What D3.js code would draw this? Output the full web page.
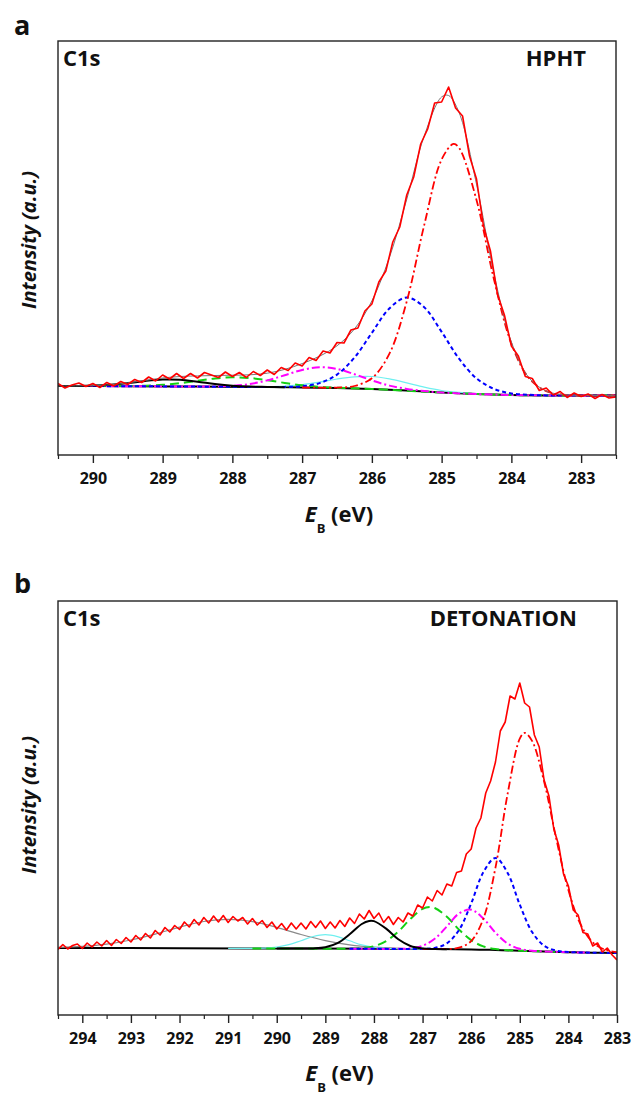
<!DOCTYPE html>
<html lang="en">
<head>
<meta charset="UTF-8">
<title>C1s XPS spectra - HPHT and detonation</title>
<script src="https://d3js.org/d3.v7.min.js"></script>
<style>
  body { margin: 0; background: #fff; }
  text { font-family: "Open Sans", "DejaVu Sans", sans-serif; font-weight: bold; fill: #111; }
</style>
</head>
<body>
<svg width="632" height="1095"></svg>
<script>
// ---- panel a : HPHT ----
const hphtTicks = [290, 289, 288, 287, 286, 285, 284, 283];
const hphtMinor = [290.5, 289.5, 288.5, 287.5, 286.5, 285.5, 284.5, 283.5, 282.5];
const hphtStart = 290.5;   // measured spectrum, 0.1 eV steps going down
const hphtCounts = [
  71.5, 67, 70, 72, 68.5, 71.5, 67.5, 72.5, 69, 73.5,
  70.5, 75.5, 72.5, 78, 74, 80, 76, 81.5, 76.5, 81.5,
  77, 82.5, 80, 77.5, 83, 78.5, 82.5, 77.5, 83.5, 79.5,
  85, 80.5, 87.5, 84.5, 92, 89, 97.5, 94.5, 104, 102,
  112.5, 112, 125, 127, 144, 151, 173, 184, 213, 228,
  260, 278, 311, 326, 352, 353, 368, 347, 339, 299,
  276, 229, 204, 161, 140, 109, 99, 78.5, 76.5, 64.5,
  67, 60, 63.5, 57.5, 62, 58.5, 61, 56.5, 60.5, 57,
  58
];
const hphtFit = [[290.5,69],[290.25,69.1],[290,69.4],[289.75,70.2],[289.5,72.1],[289.25,74.6],[289,77],
  [288.75,78.5],[288.5,79.1],[288.25,79.5],[288,79.8],[287.75,80.2],[287.5,81.8],[287.25,85.6],[287,91.4],
  [286.75,98.8],[286.5,109.2],[286.25,126],[286,154.1],[285.75,197.2],[285.5,255.8],[285.25,319],[285,358.1],
  [284.9,359.5],[284.75,342.5],[284.5,270.9],[284.25,181.4],[284,113],[283.75,77.4],[283.5,63.9],
  [283.25,60.3],[283,59.6],[282.75,59.5],[282.5,59.3]];
const hphtBackground = [[290.5,69],[289.5,68.8],[288.5,68.4],[287.5,68],[287,67.5],[286.5,67],[286,66],
  [285.5,64.5],[285,62.5],[284.5,61],[284,60],[283.5,59.6],[282.5,59.5]];
const hphtBlack = [[290.5,69],[290.25,69.1],[290,69.4],[289.75,70.2],[289.5,71.9],[289.25,74],[289,75.4],
  [288.75,75.2],[288.5,73.3],[288.25,71],[288,69.3],[287.75,68.4],[287.5,68.1],[287.25,67.8]];
const hphtGreen = [[290.5,69],[290,69],[289.5,69],[289.25,69.3],[289,70.2],[288.75,71.8],[288.5,74.2],
  [288.25,76.5],[288,77.7],[287.75,77],[287.5,74.8],[287.25,72.1],[287,69.7],[286.75,68.2],[286.5,67.3],
  [286,66],[285,62.5],[284,60],[282.5,59.5]];
const hphtMagenta = [[290.5,69],[289.5,68.8],[288.5,68.4],[288.25,68.6],[288,69.2],[287.75,71],[287.5,74.6],
  [287.25,79.8],[287,85],[286.75,87.7],[286.5,86.1],[286.25,80.8],[286,74.6],[285.75,69.4],[285.5,66.1],
  [285.25,64],[285,62.5],[284,60],[282.5,59.5]];
const hphtCyan = [[287.75,68.2],[287.5,68.4],[287.25,69],[287,70.4],[286.75,72.9],[286.5,76],[286.25,78.2],
  [286,78.5],[285.75,76.1],[285.5,72.1],[285.25,67.9],[285,64.5],[284.75,62.6],[284.5,61.2],[284.25,60.5]];
const hphtBlue = [[290.5,69],[289.5,68.8],[288.5,68.4],[287.5,68],[287.25,68.1],[287,68.8],[286.75,71.9],
  [286.5,80.4],[286.25,97.4],[286,122.2],[285.75,146.5],[285.5,157.5],[285.25,147.8],[285,123.1],
  [284.75,96.3],[284.5,76.6],[284.25,66.1],[284,61.6],[283.75,60.2],[283.5,59.6],[282.5,59.5]];
const hphtMain = [[287,67.5],[286.75,67.3],[286.5,67.4],[286.25,69],[286,76.8],[285.75,101.1],[285.5,153.6],
  [285.25,229.8],[285,295.5],[284.83,311.1],[284.75,307.2],[284.5,255],[284.25,175.8],[284,111.4],
  [283.75,77],[283.5,63.9],[283.25,60.3],[283,59.5],[282.5,59.5]];

// ---- panel b : DETONATION ----
const detTicks = [294, 293, 292, 291, 290, 289, 288, 287, 286, 285, 284, 283];
const detMinor = [294.5, 293.5, 292.5, 291.5, 290.5, 289.5, 288.5, 287.5, 286.5, 285.5, 284.5, 283.5];
const detStart = 294.5;    // measured spectrum, 0.1 eV steps going down
const detCounts = [
  65.5, 70.5, 66, 69.5, 71, 66.5, 72, 68, 73, 69,
  74.5, 69.5, 75.5, 71.5, 77.5, 73, 79.5, 75, 81.5, 77,
  84.5, 80, 87.5, 83, 89.5, 85.5, 93, 88, 95.5, 90,
  97.5, 92, 99, 93, 99.5, 92.5, 98.5, 94, 97.5, 91,
  96.5, 90, 94.5, 87.5, 93, 86, 91.5, 85, 92, 86,
  92, 86, 93.5, 87.5, 94, 86.5, 93, 87, 94.5, 88.5,
  97, 91.5, 101, 96, 104.5, 96.5, 102, 92.5, 98.5, 90.5,
  97.5, 93, 102, 99, 110, 107, 118, 114, 124.5, 120,
  131, 129, 142.5, 144, 161, 166, 187, 197, 222, 234,
  253, 284, 293, 319, 316, 332, 312, 308, 280, 268,
  235, 219, 186, 170, 141, 129, 105, 100, 82.5, 81,
  69, 72, 63, 67, 60, 55
];
const detBackground = [[294.5,67],[292,66.8],[290,66.5],[288,66.2],[287,66],[286,65.6],[285.5,65],
  [285,64.3],[284.5,63.5],[284,62.8],[283.5,62.3],[283,62]];
const detGray = [[294.5,67.6],[294,68.6],[293.5,70.8],[293,75],[292.5,80.9],[292,87.9],[291.5,93.5],
  [291,95.65],[290.5,93.4],[290,87.6],[289.5,80.5],[289,74.45],[288.5,70.2],[288,67.8],[287.5,66.7],
  [287,66.2],[286.5,65.8]];
const detCyan = [[291,66.65],[290.5,66.7],[290.25,66.9],[290,67.9],[289.75,70.3],[289.5,74.3],[289.25,78.5],
  [289,80.35],[288.75,78.4],[288.5,74.2],[288.25,70.05],[288,67.6],[287.75,66.55],[287.5,66.2],[287,66]];
const detBlack = [[290,66.5],[289.5,66.4],[289.25,66.6],[289,67.75],[288.75,71.8],[288.5,80.7],[288.25,91],
  [288.1,94.1],[288,93.9],[287.75,86.35],[287.5,75.7],[287.25,69.05],[287,66.6],[286.75,66],[286.5,65.8]];
const detGreen = [[290.5,66.6],[289.5,66.4],[288.5,66.4],[288.25,66.95],[288,68.8],[287.75,73.85],[287.5,83.4],
  [287.25,96.05],[287,106.1],[286.85,107.9],[286.75,107],[286.5,98.3],[286.25,85.4],[286,74.8],[285.75,68.6],
  [285.5,65.9],[285.25,64.85],[285,64.3],[284.5,63.5],[284,62.8]];
const detMagenta = [[288.5,66.3],[287.5,66.2],[287.25,66.75],[287,69.3],[286.75,76.2],[286.5,88.6],
  [286.25,101.5],[286,105.3],[285.75,96.5],[285.5,82.3],[285.25,71.45],[285,66.2],[284.75,64.3],
  [284.5,63.6],[284,62.8],[283.5,62.3]];
const detBlue = [[288.5,66.3],[287.5,66.1],[287,66.2],[286.75,67.1],[286.5,71.6],[286.25,85],[286,111.6],
  [285.75,142.7],[285.5,157],[285.25,142.05],[285,110.3],[284.75,83.2],[284.5,69.3],[284.25,64.35],
  [284,63],[283.5,62.3],[283,62]];
const detMain = [[287,66],[286.5,66],[286.25,67.3],[286,73.9],[285.75,96.3],[285.5,147.4],[285.25,221.25],
  [285,276.3],[284.9,282.1],[284.75,274.4],[284.5,233.5],[284.25,176.35],[284,124.9],[283.75,90.65],
  [283.5,72.7],[283.25,65.35],[283,62.8]];

const svg = d3.select("svg");

const panels = [
  { id: "a", sample: "HPHT", sampleEnd: 586, top: 41, bottom: 455, left: 58, right: 616, domain: [290.5, 282.5],
    ticks: hphtTicks, minor: hphtMinor, start: hphtStart, counts: hphtCounts, fit: hphtFit,
    bg: hphtBackground, gray: null, cyan: hphtCyan, black: hphtBlack, green: hphtGreen,
    magenta: hphtMagenta, blue: hphtBlue, main: hphtMain, letterY: 35, yTitle: 240, xTitle: 522 },
  { id: "b", sample: "DETONATION", sampleEnd: 577, top: 601, bottom: 1015, left: 58, right: 617, domain: [294.5, 283],
    ticks: detTicks, minor: detMinor, start: detStart, counts: detCounts, fit: null,
    bg: detBackground, gray: detGray, cyan: detCyan, black: detBlack, green: detGreen,
    magenta: detMagenta, blue: detBlue, main: detMain, letterY: 593, yTitle: 805, xTitle: 1081 }
];

panels.forEach(p => {
  const x = d3.scaleLinear().domain(p.domain).range([p.left, p.right]);
  const y = d3.scaleLinear().domain([0, 414]).range([p.bottom, p.top]);
  const line = d3.line().x(d => x(d[0])).y(d => y(d[1]));
  const smooth = d3.line().curve(d3.curveCatmullRom).x(d => x(d[0])).y(d => y(d[1]));

  svg.append("clipPath").attr("id", "clip-" + p.id)
    .append("rect")
    .attr("x", p.left).attr("y", p.top)
    .attr("width", p.right - p.left).attr("height", p.bottom - p.top);

  const plot = svg.append("g").attr("clip-path", `url(#clip-${p.id})`);

  // fitted components
  const comps = [
    { data: p.bg, color: "#000", width: 2, dash: null },
    { data: p.gray, color: "#8a8a8a", width: 1.2, dash: null },
    { data: p.cyan, color: "#6ff0f0", width: 1.2, dash: null },
    { data: p.green, color: "#14d014", width: 2, dash: "9,5" },
    { data: p.magenta, color: "#ff00ff", width: 2, dash: "8,3,2,3" },
    { data: p.blue, color: "#0000ff", width: 2, dash: "4,3" },
    { data: p.main, color: "#ff0000", width: 1.8, dash: "8,3,2,3" },
    { data: p.black, color: "#000", width: 2, dash: null }
  ];
  comps.filter(c => c.data).forEach(c => {
    plot.append("path")
      .datum(c.data)
      .attr("fill", "none")
      .attr("stroke", c.color)
      .attr("stroke-width", c.width)
      .attr("stroke-dasharray", c.dash)
      .attr("d", smooth);
  });

  if (p.fit) {
    plot.append("path")
      .datum(p.fit)
      .attr("fill", "none")
      .attr("stroke", "#777")
      .attr("stroke-width", 1)
      .attr("d", smooth);
  }

  // measured spectrum
  const measured = p.counts.map((v, i) => [p.start - i * 0.1, v]);
  plot.append("path")
    .datum(measured)
    .attr("fill", "none")
    .attr("stroke", "#ff0000")
    .attr("stroke-width", 1.6)
    .attr("stroke-linejoin", "round")
    .attr("d", line);

  // frame
  svg.append("rect")
    .attr("x", p.left).attr("y", p.top)
    .attr("width", p.right - p.left).attr("height", p.bottom - p.top)
    .attr("fill", "none").attr("stroke", "#222").attr("stroke-width", 1.4);

  // x axis ticks
  const ax = svg.append("g")
    .attr("transform", `translate(0,${p.bottom})`)
    .call(d3.axisBottom(x).tickValues(p.ticks).tickSize(8).tickPadding(10).tickFormat(d3.format("d")));
  ax.select(".domain").remove();
  ax.selectAll("line").attr("stroke", "#222").attr("stroke-width", 1.4);
  ax.selectAll("text").attr("font-size", 16).attr("font-family", null).attr("fill", "#111");

  const mx = svg.append("g")
    .attr("transform", `translate(0,${p.bottom})`)
    .call(d3.axisBottom(x).tickValues(p.minor).tickSize(4).tickFormat(""));
  mx.select(".domain").remove();
  mx.selectAll("line").attr("stroke", "#222").attr("stroke-width", 1.2);

  // labels
  svg.append("text").attr("x", 14).attr("y", p.letterY).attr("font-size", 27).text(p.id);
  svg.append("text").attr("x", p.left + 5).attr("y", p.top + 25).attr("font-size", 22).text("C1s");
  svg.append("text").attr("x", p.sampleEnd).attr("y", p.top + 25).attr("font-size", 22)
    .attr("text-anchor", "end").text(p.sample);

  svg.append("text")
    .attr("transform", `translate(36,${p.yTitle}) rotate(-90)`)
    .attr("text-anchor", "middle")
    .attr("font-size", 20)
    .attr("font-style", "italic")
    .text("Intensity (a.u.)");

  const t = svg.append("text")
    .attr("x", (p.left + p.right) / 2 + 2).attr("y", p.xTitle)
    .attr("text-anchor", "middle").attr("font-size", 22);
  t.append("tspan").attr("font-style", "italic").text("E");
  t.append("tspan").attr("font-size", 13).attr("dy", 11).text("B");
  t.append("tspan").attr("dy", -11).text(" (eV)");
});
</script>
</body>
</html>
